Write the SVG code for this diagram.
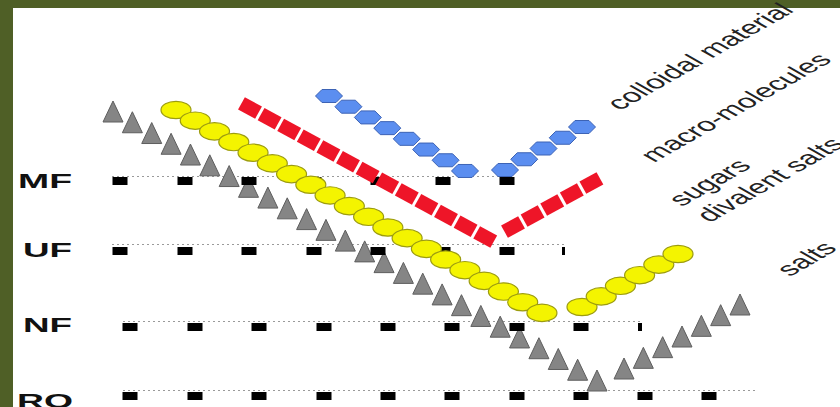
<svg xmlns="http://www.w3.org/2000/svg" xmlns:xlink="http://www.w3.org/1999/xlink" width="840" height="407" viewBox="0 0 840 407">
<style>
.lbl{font-family:"Liberation Sans",Arial,sans-serif;font-weight:bold;font-size:21px;fill:#111}
.cat{font-family:"Liberation Sans",Arial,sans-serif;font-size:19px;fill:#222}
.dot{stroke:#9a9a9a;stroke-width:1;stroke-dasharray:2 3;fill:none}
.sq{fill:#000}
.tri{fill:#858585;stroke:#5e5e5e;stroke-width:1}
.yel{fill:#f4f400;stroke:#9c9c10;stroke-width:1.2}
.red{fill:#ee1528}
.blu{fill:#5b8ef0;stroke:#3d63b5;stroke-width:1}
</style>
<defs>
<path id="t" d="M0,0 L10,21 L-10,21 Z"/>
<ellipse id="c" cx="0" cy="0" rx="15" ry="8.7"/>
<path id="rd" d="M-5.13,-10.86 L11.93,-1.4 L5.13,10.86 L-11.93,1.4 Z"/>
<path id="ru" d="M-5.13,10.86 L11.93,1.4 L5.13,-10.86 L-11.93,-1.4 Z"/>
<path id="h" d="M-13.5,0 L-7,-6.5 L7,-6.5 L13.5,0 L7,6.5 L-7,6.5 Z"/>
<rect id="b" x="-7.5" y="0" width="15" height="8"/>
</defs>
<rect x="0" y="0" width="840" height="407" fill="#ffffff"/>
<rect x="0" y="0" width="840" height="8" fill="#4f5f26"/>
<rect x="0" y="0" width="13" height="407" fill="#4f5f26"/>

<g id="labels">
<text class="lbl" x="18" y="188" textLength="54" lengthAdjust="spacingAndGlyphs">MF</text>
<text class="lbl" x="23" y="257" textLength="49" lengthAdjust="spacingAndGlyphs">UF</text>
<text class="lbl" x="23" y="332" textLength="49" lengthAdjust="spacingAndGlyphs">NF</text>
<text class="lbl" x="17" y="408" textLength="56" lengthAdjust="spacingAndGlyphs">RO</text>
</g>

<g id="rows">
<line class="dot" x1="112" y1="176.5" x2="512" y2="176.5"/>
<line class="dot" x1="112" y1="244.5" x2="565" y2="244.5"/>
<line class="dot" x1="123" y1="321.5" x2="643" y2="321.5"/>
<line class="dot" x1="123" y1="390.5" x2="755" y2="390.5"/>
</g>

<g id="triangles" class="tri">
<use xlink:href="#t" x="113" y="101"/>
<use xlink:href="#t" x="132.36" y="111.76"/>
<use xlink:href="#t" x="151.72" y="122.52"/>
<use xlink:href="#t" x="171.08" y="133.28"/>
<use xlink:href="#t" x="190.44" y="144.04"/>
<use xlink:href="#t" x="209.8" y="154.8"/>
<use xlink:href="#t" x="229.16" y="165.56"/>
<use xlink:href="#t" x="248.52" y="176.32"/>
<use xlink:href="#t" x="267.88" y="187.08"/>
<use xlink:href="#t" x="287.24" y="197.84"/>
<use xlink:href="#t" x="306.6" y="208.6"/>
<use xlink:href="#t" x="325.96" y="219.36"/>
<use xlink:href="#t" x="345.32" y="230.12"/>
<use xlink:href="#t" x="364.68" y="240.88"/>
<use xlink:href="#t" x="384.04" y="251.64"/>
<use xlink:href="#t" x="403.4" y="262.4"/>
<use xlink:href="#t" x="422.76" y="273.16"/>
<use xlink:href="#t" x="442.12" y="283.92"/>
<use xlink:href="#t" x="461.48" y="294.68"/>
<use xlink:href="#t" x="480.84" y="305.44"/>
<use xlink:href="#t" x="500.2" y="316.2"/>
<use xlink:href="#t" x="519.56" y="326.96"/>
<use xlink:href="#t" x="538.92" y="337.72"/>
<use xlink:href="#t" x="558.28" y="348.48"/>
<use xlink:href="#t" x="577.64" y="359.24"/>
<use xlink:href="#t" x="597" y="370"/>
<use xlink:href="#t" x="624" y="358"/>
<use xlink:href="#t" x="643.33" y="347.33"/>
<use xlink:href="#t" x="662.67" y="336.67"/>
<use xlink:href="#t" x="682" y="326"/>
<use xlink:href="#t" x="701.33" y="315.33"/>
<use xlink:href="#t" x="720.67" y="304.67"/>
<use xlink:href="#t" x="740" y="294"/>
</g>

<g id="pores" class="sq">
<use xlink:href="#b" x="120" y="177"/>
<use xlink:href="#b" x="185" y="177"/>
<use xlink:href="#b" x="249" y="177"/>
<use xlink:href="#b" x="314" y="177"/>
<use xlink:href="#b" x="378" y="177"/>
<use xlink:href="#b" x="443" y="177"/>
<use xlink:href="#b" x="507" y="177"/>
<use xlink:href="#b" x="120" y="247"/>
<use xlink:href="#b" x="185" y="247"/>
<use xlink:href="#b" x="249" y="247"/>
<use xlink:href="#b" x="314" y="247"/>
<use xlink:href="#b" x="378" y="247"/>
<use xlink:href="#b" x="443" y="247"/>
<use xlink:href="#b" x="507" y="247"/>
<rect x="562" y="247" width="3" height="8"/>
<use xlink:href="#b" x="130" y="323"/>
<use xlink:href="#b" x="195" y="323"/>
<use xlink:href="#b" x="259" y="323"/>
<use xlink:href="#b" x="324" y="323"/>
<use xlink:href="#b" x="388" y="323"/>
<use xlink:href="#b" x="452" y="323"/>
<use xlink:href="#b" x="517" y="323"/>
<use xlink:href="#b" x="581" y="323"/>
<rect x="638" y="323" width="4" height="8"/>
<use xlink:href="#b" x="130" y="392"/>
<use xlink:href="#b" x="195" y="392"/>
<use xlink:href="#b" x="259" y="392"/>
<use xlink:href="#b" x="324" y="392"/>
<use xlink:href="#b" x="388" y="392"/>
<use xlink:href="#b" x="452" y="392"/>
<use xlink:href="#b" x="517" y="392"/>
<use xlink:href="#b" x="581" y="392"/>
<use xlink:href="#b" x="645" y="392"/>
<use xlink:href="#b" x="709" y="392"/>
</g>

<g id="circles" class="yel">
<use xlink:href="#c" x="176" y="110"/>
<use xlink:href="#c" x="195.26" y="120.68"/>
<use xlink:href="#c" x="214.52" y="131.36"/>
<use xlink:href="#c" x="233.78" y="142.04"/>
<use xlink:href="#c" x="253.04" y="152.72"/>
<use xlink:href="#c" x="272.3" y="163.4"/>
<use xlink:href="#c" x="291.56" y="174.08"/>
<use xlink:href="#c" x="310.82" y="184.76"/>
<use xlink:href="#c" x="330.08" y="195.44"/>
<use xlink:href="#c" x="349.34" y="206.12"/>
<use xlink:href="#c" x="368.6" y="216.8"/>
<use xlink:href="#c" x="387.86" y="227.48"/>
<use xlink:href="#c" x="407.12" y="238.16"/>
<use xlink:href="#c" x="426.38" y="248.84"/>
<use xlink:href="#c" x="445.64" y="259.52"/>
<use xlink:href="#c" x="464.9" y="270.2"/>
<use xlink:href="#c" x="484.16" y="280.88"/>
<use xlink:href="#c" x="503.42" y="291.56"/>
<use xlink:href="#c" x="522.68" y="302.24"/>
<use xlink:href="#c" x="541.94" y="312.92"/>
<use xlink:href="#c" x="582" y="307"/>
<use xlink:href="#c" x="601.2" y="296.4"/>
<use xlink:href="#c" x="620.4" y="285.8"/>
<use xlink:href="#c" x="639.6" y="275.2"/>
<use xlink:href="#c" x="658.8" y="264.6"/>
<use xlink:href="#c" x="678" y="254"/>
</g>

<g id="squares" class="red">
<use xlink:href="#rd" x="250" y="108"/>
<use xlink:href="#rd" x="269.6" y="118.75"/>
<use xlink:href="#rd" x="289.2" y="129.5"/>
<use xlink:href="#rd" x="308.8" y="140.25"/>
<use xlink:href="#rd" x="328.4" y="151"/>
<use xlink:href="#rd" x="348" y="161.75"/>
<use xlink:href="#rd" x="367.6" y="172.5"/>
<use xlink:href="#rd" x="387.2" y="183.25"/>
<use xlink:href="#rd" x="406.8" y="194"/>
<use xlink:href="#rd" x="426.4" y="204.75"/>
<use xlink:href="#rd" x="446" y="215.5"/>
<use xlink:href="#rd" x="465.6" y="226.25"/>
<use xlink:href="#rd" x="485.2" y="237"/>
<use xlink:href="#ru" x="513" y="227"/>
<use xlink:href="#ru" x="532.6" y="216"/>
<use xlink:href="#ru" x="552.2" y="205"/>
<use xlink:href="#ru" x="571.8" y="194"/>
<use xlink:href="#ru" x="591.4" y="183"/>
</g>

<g id="hexagons" class="blu">
<use xlink:href="#h" x="329" y="96"/>
<use xlink:href="#h" x="348.43" y="106.71"/>
<use xlink:href="#h" x="367.86" y="117.42"/>
<use xlink:href="#h" x="387.29" y="128.13"/>
<use xlink:href="#h" x="406.72" y="138.84"/>
<use xlink:href="#h" x="426.15" y="149.55"/>
<use xlink:href="#h" x="445.58" y="160.26"/>
<use xlink:href="#h" x="465.01" y="170.97"/>
<use xlink:href="#h" x="505" y="170"/>
<use xlink:href="#h" x="524.25" y="159.25"/>
<use xlink:href="#h" x="543.5" y="148.5"/>
<use xlink:href="#h" x="562.75" y="137.75"/>
<use xlink:href="#h" x="582" y="127"/>
</g>

<g id="categories">
<text class="cat" transform="translate(620,111) scale(1.75,1) rotate(-45)">colloidal material</text>
<text class="cat" transform="translate(654,163) scale(1.75,1) rotate(-45)">macro-molecules</text>
<text class="cat" transform="translate(682,207) scale(1.75,1) rotate(-45)">sugars</text>
<text class="cat" transform="translate(710,223) scale(1.75,1) rotate(-45)">divalent salts</text>
<text class="cat" transform="translate(790,277) scale(1.75,1) rotate(-45)">salts</text>
</g>
</svg>
